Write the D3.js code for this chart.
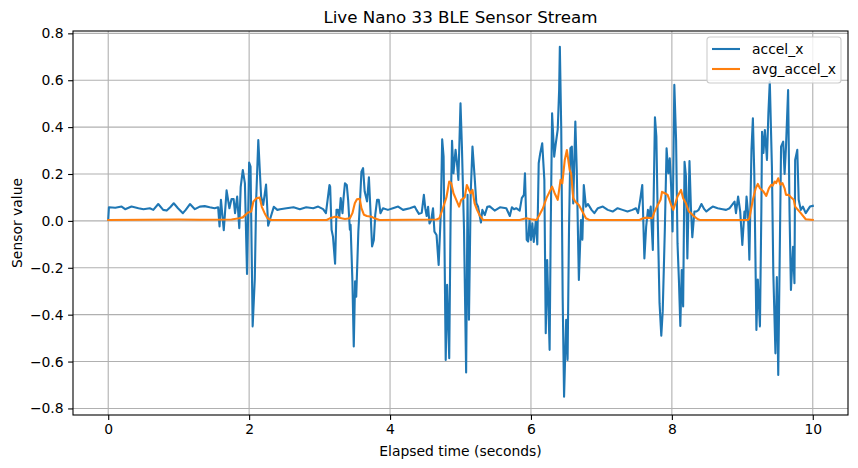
<!DOCTYPE html>
<html>
<head>
<meta charset="utf-8">
<script src="https://cdn.jsdelivr.net/npm/d3@7"></script>
<style>
  body { margin: 0; background: #fff; }
  text { font-family: "DejaVu Sans", sans-serif; fill: #000; }
</style>
</head>
<body>
<div id="chart"></div>
<script>
var width = 858
var height = 468

// accel_x samples (time in s, value)
var accelTime = [
  0.00, 0.01, 0.10, 0.19, 0.24, 0.33, 0.43, 0.50, 0.59, 0.64, 0.71, 0.78, 0.83, 0.88, 0.93, 0.99,
  1.06, 1.10, 1.16, 1.23, 1.30, 1.37, 1.44, 1.51, 1.56, 1.58, 1.60, 1.64, 1.68, 1.72, 1.75, 1.78,
  1.80, 1.83, 1.86, 1.88, 1.91, 1.94, 1.97, 2.00, 2.02, 2.05, 2.08, 2.10, 2.13, 2.17, 2.20, 2.24,
  2.27, 2.30, 2.35, 2.40, 2.44, 2.53, 2.63, 2.72, 2.81, 2.91, 2.98, 3.05, 3.09, 3.14, 3.15, 3.17,
  3.19, 3.22, 3.24, 3.26, 3.28, 3.30, 3.325, 3.34, 3.36, 3.386, 3.405, 3.43, 3.44, 3.466, 3.485, 3.504,
  3.52, 3.55, 3.57, 3.594, 3.617, 3.64, 3.674, 3.70, 3.726, 3.745, 3.77, 3.79, 3.816, 3.84, 3.864, 3.90,
  3.97, 4.04, 4.115, 4.185, 4.28, 4.35, 4.375, 4.41, 4.45, 4.48, 4.50, 4.52, 4.54, 4.56, 4.585, 4.61,
  4.63, 4.66, 4.69, 4.72, 4.74, 4.76, 4.79, 4.81, 4.84, 4.86, 4.88, 4.90, 4.93, 4.95, 4.97, 5.00,
  5.02, 5.05, 5.08, 5.10, 5.12, 5.145, 5.17, 5.20, 5.225, 5.25, 5.29, 5.31, 5.345, 5.38, 5.415, 5.485,
  5.56, 5.65, 5.70, 5.73, 5.76, 5.79, 5.84, 5.87, 5.90, 5.915, 5.94, 5.96, 5.98, 6.00, 6.02, 6.04,
  6.07, 6.09, 6.11, 6.13, 6.16, 6.19, 6.21, 6.23, 6.265, 6.28, 6.30, 6.33, 6.35, 6.38, 6.40, 6.41,
  6.43, 6.45, 6.47, 6.50, 6.52, 6.54, 6.56, 6.58, 6.60, 6.63, 6.65, 6.68, 6.71, 6.73, 6.75, 6.78,
  6.81, 6.86, 6.90, 6.95, 7.02, 7.09, 7.16, 7.23, 7.30, 7.37, 7.44, 7.49, 7.52, 7.55, 7.58, 7.61,
  7.635, 7.66, 7.68, 7.70, 7.73, 7.76, 7.78, 7.80, 7.825, 7.85, 7.87, 7.90, 7.925, 7.95, 7.97, 7.99,
  8.01, 8.035, 8.06, 8.08, 8.10, 8.12, 8.14, 8.16, 8.18, 8.20, 8.22, 8.25, 8.27, 8.29, 8.32, 8.35,
  8.38, 8.42, 8.46, 8.49, 8.53, 8.58, 8.65, 8.72, 8.77, 8.82, 8.89, 8.91, 8.94, 8.97, 9.00, 9.03,
  9.045, 9.06, 9.08, 9.10, 9.13, 9.15, 9.17, 9.20, 9.22, 9.25, 9.27, 9.28, 9.30, 9.32, 9.35, 9.37,
  9.39, 9.42, 9.44, 9.47, 9.49, 9.51, 9.53, 9.55, 9.58, 9.60, 9.62, 9.65, 9.67, 9.69, 9.72, 9.74,
  9.75, 9.78, 9.80, 9.83, 9.86, 9.90, 9.93, 9.96, 10.00
]
var accelX = [
  0.005, 0.058, 0.056, 0.061, 0.050, 0.061, 0.054, 0.050, 0.054, 0.047, 0.072, 0.047, 0.044, 0.058, 0.075, 0.054,
  0.033, 0.047, 0.072, 0.050, 0.061, 0.063, 0.058, 0.054, 0.058, -0.024, 0.090, -0.040, 0.130, 0.054, 0.093, 0.093,
  0.033, 0.104, -0.031, 0.144, 0.217, 0.160, -0.226, 0.249, 0.232, -0.450, -0.250, 0.090, 0.345, 0.104, 0.068, 0.155,
  -0.020, 0.010, 0.060, 0.047, 0.050, 0.054, 0.058, 0.050, 0.058, 0.054, 0.061, 0.050, 0.033, 0.153, 0.146, -0.038,
  -0.067, -0.183, 0.047, 0.047, 0.018, 0.097, 0.033, 0.097, 0.160, 0.153, 0.090, -0.038, -0.017, -0.258, -0.536, -0.258,
  -0.323, -0.045, 0.061, 0.210, 0.225, 0.125, 0.083, 0.186, 0.018, -0.109, -0.081, 0.026, 0.090, 0.090, 0.033, 0.054,
  0.047, 0.054, 0.061, 0.047, 0.054, 0.061, 0.047, 0.030, 0.035, 0.111, 0.054, 0.021, 0.060, -0.011, 0.004, 0.054,
  -0.046, -0.060, -0.188, 0.030, 0.348, 0.274, -0.593, -0.273, -0.586, 0.030, 0.342, 0.203, 0.303, 0.246, 0.175, 0.502,
  0.317, -0.038, -0.647, 0.111, -0.422, 0.118, 0.317, 0.190, 0.075, 0.060, -0.007, 0.047, 0.025, 0.060, 0.062, 0.044,
  0.058, 0.054, 0.021, 0.058, 0.050, 0.054, 0.044, 0.097, 0.111, 0.203, -0.081, -0.088, 0.004, -0.081, -0.010, -0.090,
  0.004, -0.100, 0.246, 0.286, 0.331, 0.175, -0.479, -0.167, -0.550, -0.050, 0.459, 0.274, 0.324, 0.390, 0.558, 0.743,
  0.388, -0.323, -0.750, -0.422, -0.593, -0.038, 0.310, 0.317, 0.074, 0.424, 0.217, -0.252, 0.004, -0.080, 0.153, 0.061,
  0.072, 0.047, 0.033, 0.054, 0.061, 0.047, 0.040, 0.054, 0.047, 0.040, 0.047, 0.054, 0.033, 0.090, 0.153, -0.160,
  -0.025, 0.047, 0.018, 0.061, -0.124, 0.442, 0.360, 0.004, -0.351, -0.490, -0.386, -0.040, 0.310, 0.203, 0.267, 0.145,
  -0.045, 0.580, 0.345, -0.095, -0.252, -0.448, -0.210, -0.365, 0.252, 0.190, -0.160, 0.255, 0.060, -0.070, 0.040, 0.040,
  0.047, 0.072, 0.050, 0.040, 0.050, 0.061, 0.054, 0.050, 0.047, 0.054, 0.082, 0.033, 0.104, 0.040, -0.103, 0.040,
  0.013, 0.104, 0.040, -0.166, 0.303, 0.438, 0.200, -0.465, -0.250, -0.450, 0.040, 0.380, 0.290, 0.388, 0.260, 0.460,
  0.594, 0.230, -0.224, -0.565, -0.240, -0.657, -0.170, 0.317, 0.338, 0.200, 0.317, 0.558, 0.040, -0.295, -0.110, -0.266,
  0.260, 0.303, 0.090, 0.047, 0.061, 0.033, 0.047, 0.061, 0.064
]

// avg_accel_x samples
var avgTime = [
  0.00, 1.00, 1.30, 1.75, 1.86, 1.91, 1.98, 2.03, 2.06, 2.10, 2.15, 2.18, 2.22, 2.26, 2.31,
  3.10, 3.145, 3.22, 3.26, 3.31, 3.36, 3.43, 3.466, 3.50, 3.53, 3.57, 3.594, 3.63, 3.67, 3.735, 3.78, 3.85,
  4.66, 4.70, 4.75, 4.80, 4.84, 4.87, 4.90, 4.94, 4.98, 5.01, 5.06, 5.09, 5.12, 5.145, 5.17, 5.20, 5.235, 5.27, 5.32,
  5.84, 5.89, 5.935, 6.00, 6.08, 6.12, 6.17, 6.22, 6.265, 6.30, 6.336, 6.38, 6.42, 6.445, 6.48, 6.51, 6.55, 6.57,
  6.60, 6.63, 6.68, 6.73, 6.78, 6.83,
  7.54, 7.59, 7.64, 7.72, 7.755, 7.80, 7.84, 7.86, 7.90, 7.94, 7.99, 8.02, 8.05, 8.08, 8.13, 8.16, 8.20, 8.24,
  8.27, 8.32, 8.37, 8.40,
  9.08, 9.10, 9.15, 9.19, 9.22, 9.25, 9.30, 9.34, 9.377, 9.41, 9.43, 9.46, 9.48, 9.51, 9.54, 9.57, 9.60, 9.62,
  9.66, 9.69, 9.73, 9.75, 9.79, 9.83, 9.90, 10.00
]
var avgX = [
  0.004, 0.006, 0.005, 0.006, 0.011, 0.015, 0.035, 0.040, 0.082, 0.096, 0.100, 0.060, 0.033, 0.011, 0.004,
  0.004, 0.011, 0.018, 0.016, 0.011, 0.008, 0.011, 0.033, 0.075, 0.092, 0.094, 0.054, 0.026, 0.021, 0.018, 0.011, 0.004,
  0.006, 0.011, 0.054, 0.100, 0.168, 0.160, 0.118, 0.090, 0.061, 0.090, 0.100, 0.153, 0.132, 0.118, 0.132, 0.075, 0.047, 0.025, 0.004,
  0.004, 0.008, 0.011, 0.007, 0.004, 0.025, 0.054, 0.097, 0.125, 0.146, 0.118, 0.090, 0.175, 0.160, 0.260, 0.302, 0.217, 0.203,
  0.097, 0.082, 0.068, 0.040, 0.011, 0.004,
  0.004, 0.011, 0.014, 0.011, 0.040, 0.068, 0.090, 0.124, 0.118, 0.111, 0.068, 0.047, 0.075, 0.104, 0.132, 0.097, 0.075, 0.040,
  0.033, 0.018, 0.007, 0.004,
  0.004, 0.011, 0.090, 0.139, 0.158, 0.139, 0.125, 0.107, 0.139, 0.154, 0.150, 0.168, 0.161, 0.182, 0.154, 0.161, 0.139, 0.111,
  0.111, 0.101, 0.090, 0.061, 0.047, 0.033, 0.007, 0.004
]

var xTicks = [0, 2, 4, 6, 8, 10]
var yTicks = [-0.8, -0.6, -0.4, -0.2, 0.0, 0.2, 0.4, 0.6, 0.8]
var seriesNames = ["accel_x", "avg_accel_x"]
var seriesColors = ["#1f77b4", "#ff7f0e"]

var margin = {top: 31, right: 10, bottom: 53, left: 73}
var plotW = width - margin.left - margin.right
var plotH = height - margin.top - margin.bottom

var x = d3.scaleLinear().domain([-0.5, 10.5]).range([0, plotW])
var y = d3.scaleLinear().domain([-0.828, 0.81]).range([plotH, 0])

var svg = d3.select("#chart").append("svg")
  .attr("width", width)
  .attr("height", height)

var g = svg.append("g")
  .attr("transform", "translate(" + margin.left + "," + margin.top + ")")

function fmt(v) {
  return d3.format(".1f")(v).replace("-", "\u2212")
}

// grid
g.append("g").selectAll("line")
  .data(xTicks)
  .enter().append("line")
  .attr("x1", function(d) { return x(d) })
  .attr("x2", function(d) { return x(d) })
  .attr("y1", 0)
  .attr("y2", plotH)
  .attr("stroke", "#b0b0b0")
  .attr("stroke-width", 1.1)

g.append("g").selectAll("line")
  .data(yTicks)
  .enter().append("line")
  .attr("x1", 0)
  .attr("x2", plotW)
  .attr("y1", function(d) { return y(d) })
  .attr("y2", function(d) { return y(d) })
  .attr("stroke", "#b0b0b0")
  .attr("stroke-width", 1.1)

// lines
var accelData = accelTime.map(function(t, i) { return [t, accelX[i]] })
var avgData = avgTime.map(function(t, i) { return [t, avgX[i]] })

var line = d3.line()
  .x(function(d) { return x(d[0]) })
  .y(function(d) { return y(d[1]) })

var clip = g.append("clipPath").attr("id", "clip")
clip.append("rect").attr("width", plotW).attr("height", plotH)

g.append("path")
  .datum(accelData)
  .attr("clip-path", "url(#clip)")
  .attr("fill", "none")
  .attr("stroke", seriesColors[0])
  .attr("stroke-width", 2.1)
  .attr("stroke-linejoin", "round")
  .attr("stroke-linecap", "square")
  .attr("d", line)

g.append("path")
  .datum(avgData)
  .attr("clip-path", "url(#clip)")
  .attr("fill", "none")
  .attr("stroke", seriesColors[1])
  .attr("stroke-width", 2.1)
  .attr("stroke-linejoin", "round")
  .attr("stroke-linecap", "square")
  .attr("d", line)

// axes
var xAxis = g.append("g")
  .attr("transform", "translate(0," + plotH + ")")
  .call(d3.axisBottom(x).tickValues(xTicks).tickSize(4.9).tickPadding(4.5).tickFormat(d3.format("d")))
var yAxis = g.append("g")
  .call(d3.axisLeft(y).tickValues(yTicks).tickSize(4.9).tickPadding(4.5).tickFormat(fmt))

;[xAxis, yAxis].forEach(function(a) {
  a.select(".domain").remove()
  a.selectAll(".tick line").attr("stroke", "#000").attr("stroke-width", 1.1)
  a.selectAll(".tick text")
    .attr("font-family", "DejaVu Sans, sans-serif")
    .attr("font-size", 13.9)
    .attr("fill", "#000")
})

g.append("rect")
  .attr("width", plotW)
  .attr("height", plotH)
  .attr("fill", "none")
  .attr("stroke", "#000")
  .attr("stroke-width", 1.1)

// labels
svg.append("text")
  .attr("x", margin.left + plotW / 2)
  .attr("y", 23)
  .attr("text-anchor", "middle")
  .attr("font-size", 16.7)
  .text("Live Nano 33 BLE Sensor Stream")

svg.append("text")
  .attr("x", margin.left + plotW / 2)
  .attr("y", 456)
  .attr("text-anchor", "middle")
  .attr("font-size", 13.9)
  .text("Elapsed time (seconds)")

svg.append("text")
  .attr("transform", "translate(22," + (margin.top + plotH / 2) + ") rotate(-90)")
  .attr("text-anchor", "middle")
  .attr("font-size", 13.9)
  .text("Sensor value")

// legend
var legend = svg.append("g").attr("transform", "translate(707,37)")
legend.append("rect")
  .attr("width", 134)
  .attr("height", 46)
  .attr("rx", 3)
  .attr("fill", "#fff")
  .attr("fill-opacity", 0.8)
  .attr("stroke", "#cccccc")
  .attr("stroke-width", 1.1)

var item = legend.selectAll(".item")
  .data(seriesNames)
  .enter().append("g")
  .attr("class", "item")
  .attr("transform", function(d, i) { return "translate(0," + (12 + i * 20) + ")" })

item.append("line")
  .attr("x1", 5)
  .attr("x2", 33)
  .attr("stroke", function(d, i) { return seriesColors[i] })
  .attr("stroke-width", 2.1)

item.append("text")
  .attr("x", 45)
  .attr("dy", "0.35em")
  .attr("font-size", 13.9)
  .text(function(d) { return d })
</script>
</body>
</html>
